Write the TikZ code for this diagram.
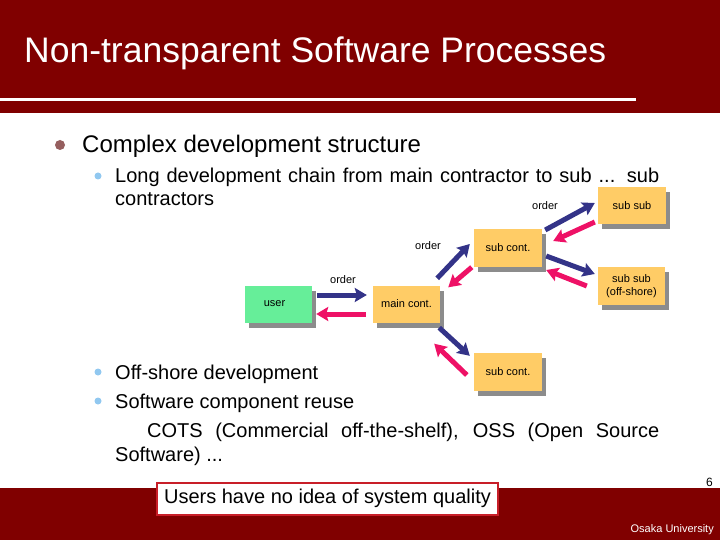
\documentclass[tikz,border=0pt]{standalone}
\usepackage{fontspec}
\setmainfont{Liberation Sans}
\usetikzlibrary{arrows.meta,shadows,calc}
\definecolor{band}{RGB}{128,0,0}
\definecolor{boxred}{RGB}{200,30,40}
\definecolor{dotbrown}{RGB}{150,95,95}
\definecolor{dotblue}{RGB}{145,200,240}
\definecolor{greenbox}{RGB}{102,238,153}
\definecolor{orangebox}{RGB}{255,204,102}
\definecolor{arrblue}{RGB}{51,51,136}
\definecolor{arrpink}{RGB}{238,17,102}
\tikzset{
  txt/.style={anchor=base west, inner sep=0pt, font=\fontsize{20}{24}\selectfont},
  unit/.style={minimum height=37pt, minimum width=67pt, inner sep=0pt,
    font=\fontsize{11}{13}\selectfont,
    drop shadow={shadow xshift=4pt, shadow yshift=-5pt, fill=black!45, opacity=1}},
  lbl/.style={inner sep=0pt, font=\fontsize{11}{13}\selectfont},
  ordarrow/.style={arrblue, line width=5pt, -{Stealth[length=12pt,width=14pt,inset=2pt]}},
  retarrow/.style={arrpink, line width=5pt, -{Stealth[length=12pt,width=14pt,inset=2pt]}}
}
\begin{document}
\begin{tikzpicture}[x=1pt,y=-1pt]
\useasboundingbox (0,0) rectangle (720,540);
% header
\fill[band] (0,0) rectangle (720,113);
\fill[white] (0,98) rectangle (636,101);
\node[anchor=base west, inner sep=0pt, text=white, font=\fontsize{35.5}{40}\selectfont] (title) at (24,63) {Non-transparent Software Processes};
% footer
\fill[band] (0,488) rectangle (720,540);
\node[lbl, text=white, anchor=east] (osaka) at (714,530) {Osaka University};
\node[lbl, anchor=east, font=\fontsize{12}{14}\selectfont] (pg) at (713,482) {6};
\node[draw=boxred, line width=2pt, fill=white, minimum width=341pt, minimum height=32pt, inner sep=0pt, font=\fontsize{20}{24}\selectfont] (note) at (327.5,498.5) {Users have no idea of system quality};
% bullets
\fill[dotbrown] (60,145) circle (5pt);
\node[anchor=base west, inner sep=0pt, font=\fontsize{24}{28}\selectfont] (b1) at (82,153) {Complex development structure};
\fill[dotblue] (98,176) circle (3.5pt);
\node[txt] (b2) at (115,183) {\makebox[544pt][s]{Long development chain from main contractor to sub ... sub}};
\node[txt] (b2b) at (115,206) {contractors};
\fill[dotblue] (98,372) circle (3.5pt);
\node[txt] (b3) at (115,379) {Off-shore development};
\fill[dotblue] (98,401) circle (3.5pt);
\node[txt] (b4) at (115,408) {Software component reuse};
\node[txt] (b5) at (147,437) {\makebox[512pt][s]{COTS (Commercial off-the-shelf), OSS (Open Source}};
\node[txt] (b5b) at (115,461) {Software) ...};
% diagram
\node[unit, fill=greenbox] (user) at (278.5,304) {\raisebox{-4pt}{user\hspace{8pt}}};
\node[unit, fill=orangebox] (main) at (406.5,304) {\raisebox{-4pt}{main cont.}};
\node[unit, fill=orangebox, minimum width=68pt, minimum height=38pt] (subU) at (508,248) {\raisebox{-4pt}{sub cont.}};
\node[unit, fill=orangebox, minimum width=68pt, minimum height=37pt] (subsub) at (632,205.5) {\raisebox{-4pt}{sub sub}};
\node[unit, fill=orangebox, minimum width=67pt, minimum height=38pt, align=left] (off) at (631.5,286) {\hspace*{6pt}sub sub\\(off-shore)};
\node[unit, fill=orangebox, minimum width=68pt, minimum height=38pt] (subL) at (508,372) {\raisebox{-3pt}{sub cont.}};
\node[lbl] (o1) at (343,280) {order};
\node[lbl] (o2) at (428,246) {order};
\node[lbl] (o3) at (545,206) {order};
% arrows
\draw[ordarrow] ([shift={(5,-9)}]user.east) -- ([shift={(-6,-9)}]main.west);
\draw[retarrow] ([shift={(-7,10)}]main.west) -- ([shift={(4,10)}]user.east);
\draw[ordarrow] ([shift={(-3,-7)}]main.north east) -- ([shift={(-4,-4)}]subU.west);
\draw[retarrow] ([shift={(-2,0)}]subU.south west) -- ([shift={(8,2)}]main.north east);
\draw[ordarrow] ([shift={(3,-18)}]subU.east) -- ([shift={(-3,-2.5)}]subsub.west);
\draw[retarrow] ([shift={(-3,16.5)}]subsub.west) -- ([shift={(11,-7)}]subU.east);
\draw[ordarrow] ([shift={(4,8)}]subU.east) -- ([shift={(-3,-12)}]off.west);
\draw[retarrow] ([shift={(-11,0)}]off.west) -- ([shift={(4,22)}]subU.east);
\draw[ordarrow] ([shift={(-1,5)}]main.south east) -- ([shift={(-4,3)}]subL.north west);
\draw[retarrow] ([shift={(-7,3)}]subL.west) -- ([shift={(-6,21)}]main.south east);
\end{tikzpicture}
\end{document}
